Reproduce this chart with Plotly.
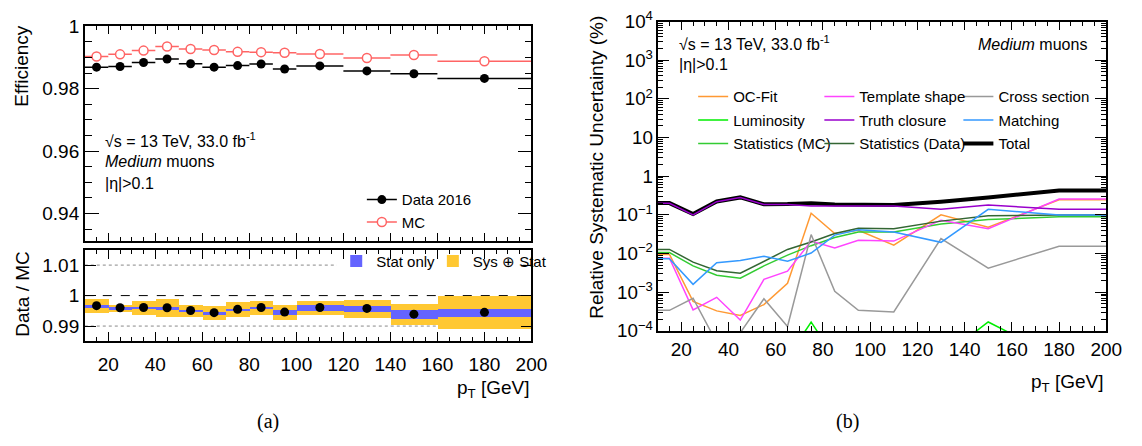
import numpy as np
import plotly.graph_objects as go

W, H = 1142, 446
FONT = "Liberation Sans, Arial, Helvetica, sans-serif"
SERIF = "Liberation Serif, Times New Roman, serif"

# ---------------- efficiency vs pT (left) ----------------
pt_low = [10, 20, 30, 40, 50, 60, 70, 80, 90, 100, 120, 140, 160]
pt_high = [20, 30, 40, 50, 60, 70, 80, 90, 100, 120, 140, 160, 200]

eff_data = [0.9869, 0.9871, 0.9884, 0.9895, 0.9880, 0.9869, 0.9874,
            0.9879, 0.9863, 0.9873, 0.9857, 0.9848, 0.9833]
eff_mc = [0.9903, 0.9910, 0.9922, 0.9935, 0.9927, 0.9924, 0.9918,
          0.9917, 0.9915, 0.9911, 0.9898, 0.9908, 0.9888]

sf_ratio = [0.9967, 0.9960, 0.9961, 0.9960, 0.9951, 0.9944, 0.9955,
            0.9961, 0.9946, 0.9961, 0.9958, 0.9939, 0.9945]
sf_stat = [0.0003, 0.0003, 0.0003, 0.0003, 0.0003, 0.0003, 0.0003,
           0.0003, 0.0008, 0.0009, 0.0011, 0.0014, 0.0014]
sf_total = [0.0023, 0.0012, 0.0023, 0.0029, 0.0019, 0.0022, 0.0024,
            0.0023, 0.0026, 0.0024, 0.0030, 0.0034, 0.0054]

pt_tick_vals = [20, 40, 60, 80, 100, 120, 140, 160, 180, 200]
eff_tick_vals = [0.94, 0.96, 0.98, 1.0]
eff_tick_text = ["0.94", "0.96", "0.98", "1"]
ratio_tick_vals = [0.99, 1.0, 1.01]
ratio_tick_text = ["0.99", "1", "1.01"]

# ---------------- systematic breakdown (right) ----------------
pt_points = [10, 15, 25, 35, 45, 55, 65, 75, 85, 95, 110, 130, 150, 180, 200]
unc_ocfit = [0.0095, 0.0095, 5.8e-4, 3.3e-4, 2.5e-4, 4.8e-4, 1.7e-3, 0.11,
             0.033, 0.040, 0.0165, 0.10, 0.048, 0.245, 0.245]
unc_template = [0.0076, 0.0076, 3.5e-4, 7.4e-4, 1.9e-4, 2.15e-3, 3.5e-3, 0.021,
                0.014, 0.022, 0.021, 0.073, 0.044, 0.256, 0.256]
unc_xsec = [3.4e-4, 3.4e-4, 7.0e-4, 5.0e-5, 9.0e-5, 6.8e-4, 1.3e-4, 0.031,
            1.06e-3, 3.4e-4, 3.1e-4, 0.0245, 4.2e-3, 0.0155, 0.0155]
unc_lumi = [2e-5, 2e-5, 2e-5, 2e-5, 2e-5, 2e-5, 2e-5, 1.7e-4,
            2e-5, 2e-5, 2e-5, 2e-5, 1.7e-4, 2e-5, 2e-5]
unc_truth = [0.20, 0.20, 0.10, 0.22, 0.28, 0.185, 0.185, 0.17,
             0.17, 0.17, 0.17, 0.14, 0.18, 0.14, 0.14]
unc_matching = [7.3e-3, 7.3e-3, 1.6e-3, 5.8e-3, 6.6e-3, 8.5e-3, 6.3e-3, 0.0103,
                0.030, 0.041, 0.036, 0.0195, 0.139, 0.10, 0.10]
unc_stat_mc = [0.0106, 0.0106, 4.8e-3, 2.75e-3, 2.3e-3, 4.8e-3, 9.1e-3, 0.016,
               0.026, 0.036, 0.036, 0.058, 0.076, 0.089, 0.089]
unc_stat_data = [0.0128, 0.0128, 6.0e-3, 3.6e-3, 3.1e-3, 6.3e-3, 0.0128, 0.020,
                 0.033, 0.045, 0.044, 0.069, 0.095, 0.10, 0.10]
unc_total = [0.202, 0.202, 0.105, 0.222, 0.283, 0.188, 0.19, 0.20,
             0.185, 0.18, 0.18, 0.22, 0.28, 0.43, 0.43]


def px(x):
    return x / W


def py(y):
    return 1 - y / H


lo = np.array(pt_low, float)
hi = np.array(pt_high, float)
centers = (lo + hi) / 2
half = (hi - lo) / 2
ratio = np.array(sf_ratio)
stat = np.array(sf_stat)
tot = np.array(sf_total)

RED = "#ff6464"
fig = go.Figure()

# efficiency points with bin-width bars
fig.add_trace(go.Scatter(
    x=centers, y=eff_mc, mode="markers", xaxis="x", yaxis="y", showlegend=False,
    marker=dict(symbol="circle", size=9, color="white", line=dict(color=RED, width=1.5)),
    error_x=dict(type="data", array=half, width=0, thickness=1.5, color=RED)))
fig.add_trace(go.Scatter(
    x=centers, y=eff_data, mode="markers", xaxis="x", yaxis="y", showlegend=False,
    marker=dict(symbol="circle", size=9, color="black"),
    error_x=dict(type="data", array=half, width=0, thickness=1.5, color="black")))
# legend entries drawn as line + marker
fig.add_trace(go.Scatter(
    x=[None], y=[None], mode="lines+markers", name="Data 2016", xaxis="x", yaxis="y",
    legend="legend", line=dict(color="black", width=1.5),
    marker=dict(symbol="circle", size=9, color="black")))
fig.add_trace(go.Scatter(
    x=[None], y=[None], mode="lines+markers", name="MC", xaxis="x", yaxis="y",
    legend="legend", line=dict(color=RED, width=1.5),
    marker=dict(symbol="circle", size=9, color="white", line=dict(color=RED, width=1.5))))

# scale-factor bands
fig.add_trace(go.Bar(
    x=centers, y=2 * tot, base=ratio - tot, width=2 * half, name="Sys \u2295 Stat",
    xaxis="x2", yaxis="y2", legend="legend3", opacity=1,
    marker=dict(color="#ffc832", line=dict(width=0))))
fig.add_trace(go.Bar(
    x=centers, y=2 * stat, base=ratio - stat, width=2 * half, name="Stat only",
    xaxis="x2", yaxis="y2", legend="legend2", opacity=1,
    marker=dict(color="#6464ff", line=dict(width=0))))
fig.add_trace(go.Scatter(
    x=centers, y=ratio, mode="markers", xaxis="x2", yaxis="y2", showlegend=False,
    marker=dict(symbol="circle", size=9, color="black")))

# systematic breakdown lines
series = [
    ("Total", unc_total, "black", 4, "legend6"),
    ("OC-Fit", unc_ocfit, "#ff9933", 1.5, "legend4"),
    ("Luminosity", unc_lumi, "#00ee00", 1.5, "legend4"),
    ("Statistics (MC)", unc_stat_mc, "#33cc33", 1.5, "legend4"),
    ("Template shape", unc_template, "#ff44ff", 1.5, "legend5"),
    ("Truth closure", unc_truth, "#9900cc", 1.5, "legend5"),
    ("Statistics (Data)", unc_stat_data, "#336633", 1.5, "legend5"),
    ("Cross section", unc_xsec, "#999999", 1.5, "legend6"),
    ("Matching", unc_matching, "#3399ff", 1.5, "legend6"),
]
rank = {"OC-Fit": 1, "Luminosity": 2, "Statistics (MC)": 3,
        "Template shape": 1, "Truth closure": 2, "Statistics (Data)": 3,
        "Cross section": 1, "Matching": 2, "Total": 3}
for name, vals, col, lw, leg in series:
    fig.add_trace(go.Scatter(
        x=pt_points, y=vals, mode="lines", name=name, xaxis="x3", yaxis="y3",
        legend=leg, legendrank=rank[name], legendgroup=name,
        line=dict(color=col, width=lw)))

# ---------------- axes ----------------
tickfont = dict(family=FONT, size=19, color="black")
common = dict(showline=True, linecolor="black", linewidth=1.5, mirror="allticks",
              ticks="inside", tickcolor="black", tickwidth=1, showgrid=False,
              zeroline=False, tickfont=tickfont)

fig.update_layout(
    xaxis=dict(domain=[px(86), px(539)], range=[10, 200], anchor="y",
               tickvals=pt_tick_vals, showticklabels=False, ticklen=8,
               minor=dict(ticks="inside", ticklen=4, dtick=5, tick0=0, tickcolor="black"),
               **common),
    yaxis=dict(domain=[py(241), py(14)], range=[0.9312, 1.0], anchor="x",
               tickvals=eff_tick_vals, ticktext=eff_tick_text, ticklen=14,
               minor=dict(ticks="inside", ticklen=7, dtick=0.005, tick0=0.94, tickcolor="black"),
               **common),
    xaxis2=dict(domain=[px(86), px(539)], range=[10, 200], anchor="y2",
                tickvals=pt_tick_vals, ticklen=10, ticklabelstandoff=5,
                minor=dict(ticks="inside", ticklen=5, dtick=5, tick0=0, tickcolor="black"),
                **common),
    yaxis2=dict(domain=[py(347), py(250)], range=[0.985, 1.0151], anchor="x2",
                tickvals=ratio_tick_vals, ticktext=ratio_tick_text, ticklen=11,
                **common),
    xaxis3=dict(domain=[px(667), px(1122)], range=[10, 200], anchor="y3",
                tickvals=pt_tick_vals, ticklen=9, ticklabelstandoff=1,
                minor=dict(ticks="inside", ticklen=5, dtick=5, tick0=0, tickcolor="black"),
                **common),
    yaxis3=dict(domain=[py(336), py(9)], type="log", range=[-4, 4], anchor="x3",
                dtick=1, exponentformat="power", ticklen=12,
                minor=dict(ticks="inside", ticklen=6, dtick="D1", tickcolor="black"),
                **{**common, "tickfont": dict(family=FONT, size=15, color="black")}),
)

# reference lines in the ratio panel
fig.add_shape(type="line", xref="x2", yref="y2", x0=10, x1=200, y0=1.0, y1=1.0,
              line=dict(color="black", width=1, dash="dash"), layer="below")
for yv in (0.99, 1.01):
    fig.add_shape(type="line", xref="x2", yref="y2", x0=10, x1=200, y0=yv, y1=yv,
                  line=dict(color="#888888", width=1, dash="dot"), layer="below")
# white fill behind the band legend, kept in the ratio panel's shape layer
fig.add_shape(type="rect", xref="x2", yref="y2",
              x0=117, x1=195, y0=1.0078, y1=1.0146,
              fillcolor="white", line=dict(width=0), layer="below")

# ---------------- legends ----------------
lfont = dict(family=FONT, size=15, color="black")


def leg(x, y, gap=0):
    return dict(x=px(x), y=py(y), xanchor="left", yanchor="top",
                bgcolor="rgba(0,0,0,0)", borderwidth=0, font=lfont,
                orientation="v", tracegroupgap=gap, itemwidth=30)


fig.update_layout(
    legend=leg(367, 180),
    legend2=leg(341, 245),
    legend3=leg(439, 245),
    legend4=leg(703, 71, gap=1),
    legend5=leg(831, 71, gap=1),
    legend6=leg(972, 71, gap=1),
)

# ---------------- text ----------------
ann = []


def text(x, y, s, size=16, xanchor="left", angle=0, family=FONT):
    ann.append(dict(x=px(x), y=py(y), xref="paper", yref="paper", text=s,
                    showarrow=False, xanchor=xanchor, yanchor="middle",
                    textangle=angle, font=dict(family=family, size=size, color="black")))


text(104, 134, "\u221as = 13 TeV, 33.0 fb<sup>-1</sup>")
text(104, 157, "<i>Medium</i> muons")
text(104, 180, "|\u03b7|>0.1")
text(687, 32, "\u221as = 13 TeV, 33.0 fb<sup>-1</sup>")
text(687, 54, "|\u03b7|>0.1")
text(1104, 33, "<i>Medium</i> muons", xanchor="right")

text(22, 56, "Efficiency", size=19, xanchor="center", angle=-90)
text(22, 297, "Data / MC", size=19, xanchor="center", angle=-90)
text(605, 163, "Relative Systematic Uncertainty (%)", size=19, xanchor="center", angle=-90)
text(540, 397, "p<sub>T</sub> [GeV]", size=19, xanchor="right")
text(1122, 391, "p<sub>T</sub> [GeV]", size=19, xanchor="right")
text(272, 432, "(a)", size=20, xanchor="center", family=SERIF)
text(860, 432, "(b)", size=20, xanchor="center", family=SERIF)

fig.update_layout(
    annotations=ann,
    width=W, height=H, margin=dict(l=0, r=0, t=0, b=0),
    paper_bgcolor="white", plot_bgcolor="white",
    barmode="overlay", bargap=0,
    font=dict(family=FONT, color="black"),
)

fig.write_html("out.html")
